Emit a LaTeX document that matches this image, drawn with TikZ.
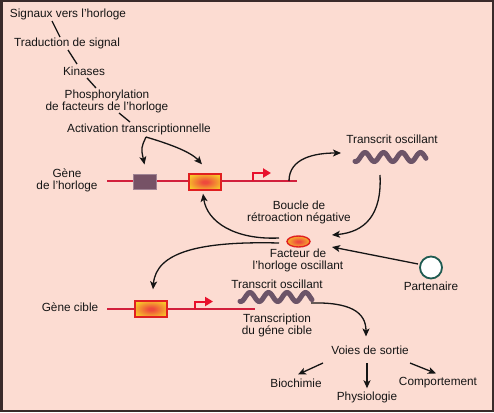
\documentclass[tikz,border=0pt]{standalone}
\usepackage{fontspec}
\setmainfont{Liberation Sans}
\usetikzlibrary{arrows.meta,shapes.geometric}
\definecolor{bg}{HTML}{FCDCD2}
\definecolor{frame}{HTML}{3A2A2A}
\definecolor{txt}{HTML}{151515}
\definecolor{genered}{HTML}{D21F3C}
\definecolor{promored}{HTML}{E8102C}
\definecolor{boxred}{HTML}{E02020}
\definecolor{orgc}{HTML}{EE4A3C}
\definecolor{yelc}{HTML}{F8CC28}
\definecolor{purp}{HTML}{765266}
\definecolor{purpedge}{HTML}{A08494}
\definecolor{wavec}{HTML}{6C5468}
\definecolor{teal}{HTML}{1E5A50}
\pgfdeclareradialshading{ogl}{\pgfpoint{0bp}{0bp}}{color(0bp)=(orgc); color(4bp)=(orgc); color(30bp)=(yelc); color(50bp)=(yelc)}
\begin{document}
\begin{tikzpicture}[x=1pt,y=-1pt,
  lbl/.style={font=\fontsize{11.8}{12}\selectfont, inner sep=0pt, align=center, text=txt},
  link/.style={line width=1.3pt, draw=txt},
  arr/.style={link, -{Stealth[length=8pt,width=7pt,inset=2pt]}},
  gene/.style={line width=2.2pt, draw=genered},
  promo/.style={line width=2pt, draw=promored, -{Triangle[length=8pt,width=9pt]}},
  orgbox/.style={draw=boxred, line width=1.4pt, shade, shading=ogl, minimum width=32pt, minimum height=16pt, inner sep=0pt},
  purpbox/.style={draw=purpedge, line width=1pt, fill=purp, minimum width=23pt, minimum height=15pt, inner sep=0pt},
  oval/.style={ellipse, draw=boxred, line width=1.4pt, shade, shading=ogl, minimum width=23pt, minimum height=11pt, inner sep=0pt},
  partner/.style={circle, draw=teal, line width=1.8pt, fill=white, minimum size=22pt, inner sep=0pt},
  wave/.style={line width=5pt, draw=wavec, line cap=round}
]
\useasboundingbox (0,0) rectangle (494,412);
\draw[line width=2.5pt, draw=frame, fill=bg] (1.25,1.25) rectangle (492.75,410.75);

% signalling cascade
\node[lbl] (sig) at (68,14) {Signaux vers l'horloge};
\node[lbl] (trad) at (67,43) {Traduction de signal};
\node[lbl] (kin) at (84,71) {Kinases};
\node[lbl] (phos) at (107,101) {Phosphorylation\\de facteurs de l'horloge};
\node[lbl] (act) at (139,129) {Activation transcriptionnelle};
\coordinate (c1a) at (52,21); \coordinate (c1b) at (60,37);
\coordinate (c2a) at (68,50); \coordinate (c2b) at (77,64);
\coordinate (c3a) at (87,78); \coordinate (c3b) at (96,88);
\coordinate (c4a) at (119,113); \coordinate (c4b) at (130,122);
\draw[link] (c1a) -- (c1b);
\draw[link] (c2a) -- (c2b);
\draw[link] (c3a) -- (c3b);
\draw[link] (c4a) -- (c4b);

% clock gene
\node[lbl] (geneh) at (67,180) {Gène\\de l'horloge};
\coordinate (g1s) at (107,181);
\coordinate (g1e) at (297,181);
\draw[gene] (g1s) -- (g1e);
\node[purpbox] (pbox) at (144.5,181.5) {};
\node[orgbox] (obox1) at (205,182) {};
\coordinate (p1) at (253,181);
\coordinate (p1t) at (271,173);
\draw[promo] (p1) |- (p1t);

% activation arrows
\coordinate (split) at (146,137);
\draw[arr] (split) .. controls (141,148) .. ([yshift=9pt]pbox.north);
\draw[arr] (split) .. controls (166,143) and (190,151) .. ([yshift=9pt,xshift=-3pt]obox1.north);

% oscillating transcript 1
\node[lbl] (trans1) at (392,139) {Transcrit oscillant};
\draw[wave] plot[domain=355:426, samples=90, smooth] (\x, {157 - 4.5*cos(19.46*(\x-365))});
\coordinate (w1a) at (341,153);
\coordinate (w1b) at (380,175);
\coordinate (g1x) at (289,181);
\draw[arr] (g1x) .. controls (289,158) and (315,153) .. (w1a);

% feedback loop
\node[lbl] (boucle) at (299,212) {Boucle de\\rétroaction négative};
\node[oval] (fac) at (298.5,241.5) {};
\node[lbl] (facl) at (298,260) {Facteur de\\l'horloge oscillant};
\coordinate (facin1) at (332,235);
\coordinate (facin2) at (332,247);
\draw[arr] (w1b) .. controls (382,215) and (365,232) .. (facin1);

% partner
\node[partner] (part) at (431,267.5) {};
\node[lbl] (partl) at (431,286) {Partenaire};
\coordinate (partout) at (418,264);
\draw[arr] (partout) -- (facin2);

% factor to genes
\coordinate (facout1) at (279,238);
\coordinate (facout2) at (279,243);
\draw[arr] (facout1) .. controls (235,240) and (207,222) .. ([yshift=-3pt,xshift=-2pt]obox1.south);

% target gene
\node[lbl] (cible) at (70,307) {Gène cible};
\coordinate (g2s) at (107,309);
\coordinate (g2e) at (255,309);
\draw[gene] (g2s) -- (g2e);
\node[orgbox] (obox2) at (151,309) {};
\coordinate (p2) at (195,309);
\coordinate (p2t) at (213,301.5);
\draw[promo] (p2) |- (p2t);
\draw[arr] (facout2) .. controls (200,241) and (156,252) .. ([yshift=11pt,xshift=2pt]obox2.north);

% oscillating transcript 2
\node[lbl] (trans2) at (277,284) {Transcrit oscillant};
\draw[wave] plot[domain=240:312, samples=90, smooth] (\x, {297 - 4.5*cos(19.46*(\x-250))});
\node[lbl] (transc) at (277,325) {Transcription\\du géne cible};
\coordinate (w2b) at (311,303);

% outputs
\node[lbl] (voies) at (370,350) {Voies de sortie};
\draw[arr] (w2b) .. controls (350,302) and (366,312) .. ([yshift=9pt,xshift=-4pt]voies.north);
\node[lbl] (bio) at (296,383) {Biochimie};
\node[lbl] (phys) at (367,397) {Physiologie};
\node[lbl] (comp) at (438,383) {Comportement};
\coordinate (v1) at (323,363);
\coordinate (v2) at (367,363);
\coordinate (v3) at (410,363);
\draw[arr] (v1) -- ([yshift=4pt,xshift=2pt]bio.north);
\draw[arr] (v2) -- ([yshift=3pt]phys.north);
\draw[arr] (v3) -- ([yshift=4pt,xshift=-2pt]comp.north);
\end{tikzpicture}
\end{document}
